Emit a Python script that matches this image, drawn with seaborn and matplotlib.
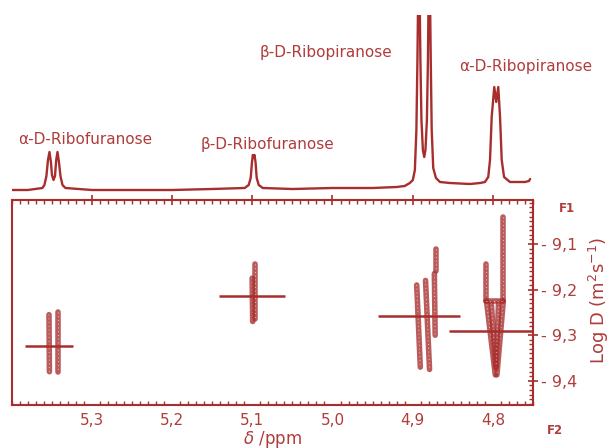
import matplotlib
matplotlib.use("Agg")
import matplotlib.pyplot as plt
import seaborn as sns
import pandas as pd
from matplotlib.ticker import FixedLocator, MultipleLocator

# ---------------- data ----------------
# 1D 1H spectrum (delta ppm, intensity a.u.)
spec_delta = [5.400, 5.380, 5.3617, 5.3592, 5.3567, 5.3548, 5.3529, 5.3511, 5.3498, 5.3479,
              5.3460, 5.3445, 5.3429, 5.3411, 5.3392, 5.3367, 5.3330, 5.300, 5.250, 5.200,
              5.150, 5.1095, 5.1045, 5.1020, 5.1004, 5.0993, 5.0983, 5.0973, 5.0960, 5.0945,
              5.0920, 5.0870, 5.050, 5.000, 4.950, 4.920, 4.910, 4.9036, 4.8998, 4.8973,
              4.8954, 4.8941, 4.8923, 4.8904, 4.8891, 4.8873, 4.8856, 4.8841, 4.8823, 4.8810,
              4.8794, 4.8775, 4.8763, 4.8744, 4.8710, 4.8660, 4.8535, 4.8286, 4.8160, 4.8099,
              4.8058, 4.8036, 4.8015, 4.7983, 4.7958, 4.7933, 4.7911, 4.7890, 4.7861, 4.7787,
              4.7700, 4.7600, 4.7550, 4.7536]
spec_int = [0, 0, 2, 5, 14, 30, 38, 28, 15, 10,
            14, 30, 38, 28, 14, 5, 2, 0, 0, 0,
            1, 2, 5, 12, 28, 35, 32, 35, 28, 12,
            5, 2, 1, 2, 2, 3, 4, 7, 10, 20,
            60, 130, 260, 130, 70, 40, 33, 40, 70, 130,
            260, 130, 60, 22, 12, 8, 7, 6, 7, 8,
            13, 30, 73, 103, 88, 103, 73, 30, 13, 8,
            8, 8, 9, 11]

# peak labels
label_names = ["α-D-Ribofuranose", "β-D-Ribofuranose", "β-D-Ribopiranose", "α-D-Ribopiranose"]

# DOSY strands: (delta at top, delta at bottom, logD top, logD bottom)
strand_d_top = [5.3535, 5.3420, 5.1002, 5.0970, 4.8950, 4.8840, 4.8730, 4.8710,
                4.8080, 4.7870, 4.8080, 4.7870, 4.8020, 4.7930, 4.8080]
strand_d_bot = [5.3530, 5.3420, 5.0995, 5.0970, 4.8905, 4.8790, 4.8720, 4.8710,
                4.8080, 4.7870, 4.7970, 4.7950, 4.7965, 4.7960, 4.7870]
strand_top = [-9.255, -9.250, -9.175, -9.145, -9.190, -9.180, -9.165, -9.110,
              -9.145, -9.040, -9.225, -9.225, -9.230, -9.230, -9.225]
strand_bot = [-9.380, -9.380, -9.270, -9.265, -9.370, -9.375, -9.300, -9.160,
              -9.225, -9.225, -9.387, -9.387, -9.370, -9.370, -9.225]

# fitted diffusion coefficients (horizontal bars)
bar_logD = [-9.323, -9.215, -9.258, -9.291]
bar_d_start = [5.383, 5.142, 4.943, 4.855]
bar_d_end = [5.323, 5.059, 4.841, 4.750]

xtick_values = [5.3, 5.2, 5.1, 5.0, 4.9, 4.8]
xtick_labels = ["5,3", "5,2", "5,1", "5,0", "4,9", "4,8"]
ytick_values = [-9.1, -9.2, -9.3, -9.4]
ytick_labels = ["- 9,1", "- 9,2", "- 9,3", "- 9,4"]

# ---------------- style ----------------
sns.set_theme(style="white")
plt.rcParams["font.family"] = ["DejaVu Sans"]
plt.rcParams["mathtext.fontset"] = "dejavusans"

RED = "#a82e2e"
TXT = "#b03c3c"

W, H = 611, 448
fig = plt.figure(figsize=(W / 100, H / 100), dpi=100)

xl, xr = 11.7, 533
ax = fig.add_axes([xl / W, 1 - 405 / H, (xr - xl) / W, (405 - 199.7) / H])
axs = fig.add_axes([xl / W, 1 - 197 / H, (xr - xl) / W, (197 - 15) / H])

XMIN, XMAX = 5.40, 4.75

# ---- spectrum ----
df_spec = pd.DataFrame({"delta": spec_delta, "I": spec_int})
sns.lineplot(data=df_spec, x="delta", y="I", ax=axs, color=RED, lw=1.7,
             sort=False, estimator=None)
axs.set_xlim(XMIN, XMAX)
axs.set_ylim(-7, 175)
axs.axis("off")

label_pos = [(85, 140), (268, 145), (326, 53), (526, 67)]
for name, (px, py) in zip(label_names, label_pos):
    fig.text(px / W, 1 - py / H, name, ha="center", va="center",
             fontsize=11, color=TXT)

# ---- DOSY ----
for dt, db, yt, yb in zip(strand_d_top, strand_d_bot, strand_top, strand_bot):
    ax.plot([dt, db], [yt, yb], color=RED, lw=4.0, solid_capstyle="round", alpha=0.78)
    ax.plot([dt, db], [yt, yb], color="white", lw=0.6, ls=(0, (1, 3.5)), alpha=0.8)

ax.hlines(bar_logD, bar_d_start, bar_d_end, color=RED, lw=1.8)

ax.set_xlim(XMIN, XMAX)
ax.set_ylim(-9.453, -9.003)
ax.xaxis.set_major_locator(FixedLocator(xtick_values))
ax.set_xticklabels(xtick_labels)
ax.xaxis.set_minor_locator(MultipleLocator(0.01))
ax.yaxis.tick_right()
ax.yaxis.set_major_locator(FixedLocator(ytick_values))
ax.set_yticklabels(ytick_labels)
ax.yaxis.set_minor_locator(MultipleLocator(0.01))

for s in ax.spines.values():
    s.set_color(RED)
    s.set_linewidth(1.5)
    s.set_visible(True)

ax.tick_params(axis="x", which="major", direction="inout", length=7, width=1.2,
               colors=RED, labelcolor=TXT, labelsize=11, pad=2, top=True)
ax.tick_params(axis="x", which="minor", direction="in", length=3, width=1.0,
               colors=RED, top=True, bottom=True)
ax.tick_params(axis="y", which="major", direction="inout", length=7, width=1.2,
               colors=RED, labelcolor=TXT, labelsize=11.5, pad=2, left=False, right=True)
ax.tick_params(axis="y", which="minor", direction="in", length=3, width=1.0,
               colors=RED, left=False, right=True)
ax.set_xlabel("")
ax.set_ylabel("")

fig.text(272 / W, 1 - 439 / H, r"$\delta$ /ppm", ha="center", va="center",
         fontsize=12, color=TXT)
fig.text(599 / W, 1 - 300 / H, r"Log D (m$^{2}$s$^{-1}$)", ha="center", va="center",
         rotation=90, fontsize=13, color=TXT)
fig.text(567 / W, 1 - 208 / H, "F1", ha="center", va="center", fontsize=8.5,
         fontweight="bold", color=TXT)
fig.text(555 / W, 1 - 430 / H, "F2", ha="center", va="center", fontsize=8.5,
         fontweight="bold", color=TXT)

fig.savefig("out.png", dpi=100, facecolor="white")
